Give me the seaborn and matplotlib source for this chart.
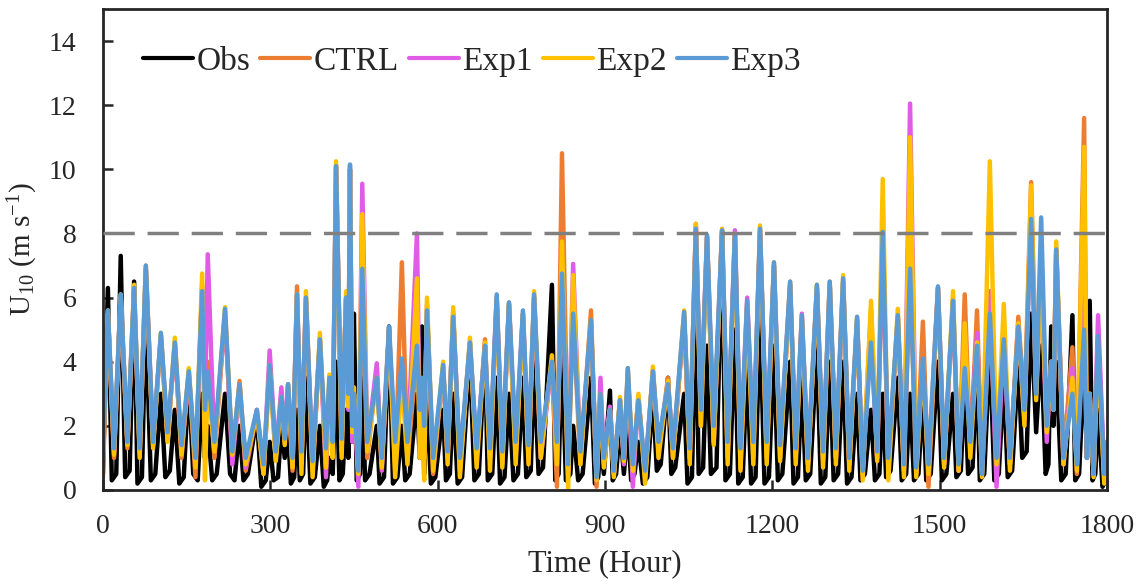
import numpy as np
import pandas as pd
import matplotlib
matplotlib.use("Agg")
import matplotlib.pyplot as plt
import seaborn as sns
from matplotlib.lines import Line2D

# Turning points (hour) of the model runs
hours = [0, 9, 20, 32, 44, 56, 66, 77, 90, 104, 116, 129, 141, 154, 166, 178, 183, 188, 200, 219, 232, 245, 256, 276, 288, 299,
         310, 320, 326, 332, 340, 348, 356, 364, 376, 389, 400, 406, 412, 418, 428, 436, 440, 443, 447, 450, 458, 465, 474, 491, 500, 513, 524, 536, 546, 563, 568, 572, 576, 581, 592,
         610, 618, 628, 640, 658, 670, 685, 694, 706, 716, 728, 740, 753, 763, 773, 785, 805, 814, 823, 834, 843, 856, 875, 885, 892, 898,
         909, 916, 927, 934, 941, 950, 960, 972, 986, 996, 1013, 1022, 1042, 1052, 1063, 1072, 1083, 1095, 1110, 1120, 1133, 1143, 1155, 1166, 1178, 1190, 1203, 1214,
         1232, 1242, 1253, 1264, 1280, 1291, 1303, 1314, 1327, 1338, 1352, 1362, 1377, 1388, 1398, 1408, 1425, 1436, 1447, 1458, 1470, 1480, 1497, 1508,
         1524, 1534, 1545, 1555, 1567, 1576, 1590, 1602, 1615, 1626, 1641, 1652, 1664, 1673, 1682, 1692, 1700, 1704, 1709, 1722, 1738, 1746, 1759, 1764, 1769, 1776, 1784, 1795, 1800]

# Observation turning points (wider calm periods)
obs_hours = [0, 9, 16, 24, 32, 40, 48, 56, 62, 70, 77, 86, 94, 104, 112, 120, 129, 137, 145, 154, 162, 170, 178, 183, 188, 196, 204, 219, 228, 236, 245, 252, 260, 276, 284, 292, 299,
             306, 314, 320, 326, 332, 337, 343, 348, 353, 359, 364, 372, 380, 389, 396, 402, 406, 412, 418, 424, 430, 436, 440, 443, 447, 450, 455, 461, 465, 470, 478, 491, 496, 504, 513, 520, 528, 536, 542, 550, 563, 568, 572, 576, 581, 588, 596,
             610, 615, 622, 628, 636, 644, 658, 666, 674, 685, 690, 698, 706, 712, 720, 728, 736, 744, 753, 759, 767, 773, 781, 789, 805, 811, 817, 823, 830, 838, 843, 852, 860, 875, 882, 888, 892, 898,
             909, 914, 920, 927, 934, 941, 947, 953, 960, 968, 976, 986, 993, 1000, 1013, 1019, 1026, 1042, 1048, 1056, 1063, 1068, 1076, 1083, 1090, 1100, 1110, 1116, 1124, 1133, 1139, 1147, 1155, 1162, 1170, 1178, 1186, 1194, 1203, 1210, 1218,
             1232, 1238, 1246, 1253, 1260, 1268, 1280, 1287, 1295, 1303, 1310, 1318, 1327, 1334, 1342, 1352, 1358, 1366, 1377, 1384, 1392, 1398, 1404, 1412, 1425, 1432, 1440, 1447, 1454, 1462, 1470, 1476, 1484, 1497, 1504, 1512,
             1524, 1530, 1538, 1545, 1551, 1559, 1567, 1572, 1580, 1590, 1598, 1606, 1615, 1622, 1630, 1641, 1648, 1656, 1664, 1673, 1682, 1690, 1695, 1700, 1704, 1709, 1718, 1726, 1738, 1743, 1750, 1759, 1764, 1769, 1774, 1779, 1784, 1792, 1797, 1800]

obs = [0.5, 6.3, 0.3, 0.5, 7.3, 0.4, 0.6, 6.5, 0.2, 0.4, 5.5, 0.3, 0.5, 3.0, 0.4, 0.6, 2.5, 0.2, 0.4, 3.5, 0.5, 0.3, 3.0, 1.0, 2.0, 0.3, 0.5, 3.0, 0.5, 0.3, 2.0, 0.3, 0.5, 2.3, 0.1, 0.3, 1.5,
       0.3, 0.4, 2.0, 1.0, 1.8, 0.2, 0.4, 2.5, 0.3, 0.5, 3.5, 0.2, 0.4, 2.0, 0.1, 0.3, 1.0, 0.5, 4.0, 0.3, 0.5, 2.5, 1.0, 2.5, 1.5, 5.5, 0.3, 0.5, 3.5, 0.3, 0.5, 2.0, 0.2, 0.4, 5.1, 0.2, 0.4, 2.0, 0.3, 0.5, 3.0, 1.0, 5.1, 0.5, 3.0, 0.2, 0.4,
       2.5, 0.3, 0.5, 3.0, 0.2, 0.4, 4.2, 0.3, 0.5, 4.5, 0.3, 0.5, 3.5, 0.2, 0.4, 3.0, 0.3, 0.5, 3.5, 0.4, 0.6, 4.0, 0.5, 0.7, 6.4, 0.3, 0.5, 4.5, 0.3, 0.5, 2.0, 0.3, 0.5, 3.5, 0.2, 0.4, 1.5, 0.5,
       3.1, 0.3, 0.5, 2.0, 0.5, 2.0, 0.3, 0.5, 1.5, 0.2, 0.4, 3.0, 0.6, 0.8, 3.5, 0.5, 0.7, 3.0, 0.2, 0.4, 6.0, 0.5, 0.7, 4.5, 0.5, 0.7, 8.0, 0.3, 0.5, 5.0, 0.2, 0.4, 4.0, 0.2, 0.4, 5.5, 0.2, 0.4, 4.5, 0.3, 0.5,
       4.0, 0.2, 0.4, 3.5, 0.3, 0.5, 4.5, 0.2, 0.4, 4.0, 0.3, 0.5, 4.0, 0.2, 0.4, 3.0, 0.3, 0.5, 2.5, 0.3, 0.5, 3.0, 0.4, 0.6, 3.5, 0.3, 0.5, 3.0, 0.3, 0.5, 3.0, 0.3, 0.5, 4.0, 0.3, 0.5,
       3.0, 0.4, 0.6, 3.5, 0.5, 0.7, 4.0, 0.3, 0.5, 4.5, 0.3, 0.5, 3.5, 0.4, 0.6, 4.0, 1.0, 1.2, 5.5, 1.8, 4.5, 0.5, 0.8, 5.1, 2.0, 4.0, 0.3, 0.5, 5.45, 0.3, 0.5, 4.0, 1.0, 5.9, 0.3, 0.5, 2.5, 0.1, 0.3, 1.5]

ctrl = [0.4, 5.5, 1.0, 6.0, 1.3, 6.2, 1.2, 6.9, 1.4, 4.8, 1.6, 4.6, 1.0, 3.7, 0.4, 6.4, 2.0, 4.0, 1.0, 5.5, 1.0, 3.4, 0.6, 2.4, 0.5, 3.8,
        1.0, 2.8, 1.5, 3.2, 0.6, 6.35, 0.8, 5.9, 0.6, 4.7, 0.8, 3.3, 1.4, 10.1, 1.5, 6.0, 2.8, 10.0, 2.0, 3.0, 0.6, 6.5, 1.0, 3.7, 0.8, 5.0, 0.6, 7.1, 0.9, 4.3, 2.0, 3.0, 1.0, 5.8, 0.5,
        3.8, 1.0, 5.5, 0.6, 4.6, 1.0, 4.7, 1.0, 6.0, 0.8, 5.8, 1.0, 5.5, 1.0, 6.0, 1.2, 4.0, 0.1, 10.5, 0.6, 5.5, 0.8, 5.6, 0.1, 3.0, 0.8,
        2.5, 0.5, 2.8, 1.0, 3.6, 0.8, 2.9, 0.4, 3.7, 1.2, 3.5, 1.0, 5.4, 1.0, 8.3, 2.0, 7.9, 1.5, 8.1, 1.0, 8.0, 0.7, 5.8, 1.0, 8.1, 1.0, 7.0, 1.0,
        6.4, 1.0, 5.3, 0.8, 6.3, 1.0, 6.4, 1.0, 6.5, 0.8, 5.3, 0.5, 5.6, 1.0, 7.6, 0.8, 5.4, 0.6, 6.9, 0.5, 5.25, 0.1, 6.3, 0.8,
        5.9, 0.6, 6.1, 1.2, 5.6, 0.5, 5.5, 0.6, 4.8, 0.8, 5.4, 2.5, 9.6, 3.5, 7.0, 2.0, 4.0, 2.5, 7.5, 1.0, 4.45, 0.5, 11.6, 1.0, 3.0, 0.5, 4.5, 0.3, 1.5]

exp1 = [1.2, 5.5, 1.2, 6.0, 1.5, 6.2, 1.1, 6.9, 1.5, 4.8, 1.7, 4.5, 1.2, 3.6, 0.8, 6.3, 2.5, 7.35, 1.3, 5.5, 0.8, 3.2, 0.7, 2.5, 0.6, 4.35,
        1.1, 3.2, 1.6, 3.3, 0.8, 6.1, 0.9, 6.0, 0.7, 4.7, 0.4, 3.4, 1.5, 10.1, 1.2, 6.0, 2.5, 10.0, 1.5, 3.0, 0.1, 9.55, 1.4, 3.95, 0.6, 5.0, 1.0, 4.0, 1.2, 8.0, 2.2, 3.2, 1.5, 5.5, 0.8,
        3.8, 1.0, 5.5, 0.8, 4.6, 1.2, 4.5, 1.0, 6.0, 1.0, 5.8, 1.2, 5.5, 1.0, 6.0, 1.0, 4.0, 1.0, 6.8, 0.5, 7.05, 1.0, 5.2, 0.3, 3.5, 1.0,
        2.6, 0.5, 2.8, 0.8, 3.7, 0.1, 2.9, 0.5, 3.7, 1.3, 3.3, 1.2, 5.4, 1.0, 8.2, 2.5, 7.9, 1.5, 8.1, 1.2, 8.1, 1.0, 6.0, 1.3, 8.1, 1.2, 7.0, 1.2,
        6.4, 1.1, 5.5, 0.8, 6.3, 0.9, 6.4, 1.0, 6.5, 0.8, 5.3, 0.6, 5.0, 1.0, 8.0, 0.6, 5.4, 0.6, 12.05, 0.6, 4.0, 0.6, 6.3, 0.8,
        5.9, 0.6, 4.5, 1.5, 4.9, 0.6, 6.2, 0.1, 4.7, 0.8, 5.1, 2.2, 8.7, 3.0, 6.8, 1.5, 4.0, 2.5, 7.5, 0.8, 3.8, 0.8, 6.0, 1.0, 3.0, 0.5, 5.45, 0.6, 1.5]

exp2 = [1.0, 5.6, 1.1, 6.1, 1.4, 6.4, 1.0, 7.0, 1.3, 4.9, 1.5, 4.75, 1.1, 3.8, 0.7, 6.75, 0.3, 3.5, 1.2, 5.7, 1.1, 3.3, 0.8, 2.4, 0.5, 3.9,
        0.9, 2.9, 1.4, 3.3, 0.7, 6.1, 0.5, 6.2, 0.4, 4.9, 0.7, 3.6, 1.0, 10.25, 1.0, 6.2, 2.6, 10.0, 1.8, 3.2, 0.5, 8.6, 1.2, 3.5, 0.7, 5.0, 0.4, 3.5, 0.8, 6.6, 1.0, 3.0, 0.3, 6.0, 0.6,
        4.0, 0.8, 5.7, 0.4, 4.75, 0.7, 4.6, 0.6, 6.0, 0.7, 5.85, 0.8, 5.5, 0.8, 6.2, 1.0, 4.2, 0.8, 7.75, 0.0, 6.7, 0.8, 5.3, 0.3, 3.0, 0.7,
        2.5, 0.4, 2.9, 0.9, 3.8, 0.6, 3.0, 0.2, 3.85, 1.0, 3.4, 1.0, 5.6, 0.8, 8.3, 2.0, 7.9, 1.4, 8.15, 0.8, 8.0, 0.6, 5.8, 0.8, 8.25, 0.8, 7.1, 0.9,
        6.5, 0.8, 5.4, 0.6, 6.4, 0.7, 6.5, 0.8, 6.7, 0.6, 5.4, 0.3, 5.9, 0.9, 9.7, 0.3, 5.65, 0.4, 11.0, 0.4, 4.0, 0.5, 6.3, 0.7,
        6.2, 0.6, 5.2, 1.0, 4.6, 0.4, 10.25, 0.8, 5.8, 0.6, 5.2, 2.0, 9.5, 2.8, 7.0, 1.8, 4.0, 2.5, 7.75, 0.8, 3.5, 0.6, 10.7, 1.0, 3.0, 0.4, 4.5, 0.2, 1.5]

exp3 = [1.0, 5.6, 1.3, 6.1, 1.5, 6.3, 1.3, 7.0, 1.5, 4.9, 1.8, 4.6, 1.4, 3.7, 1.0, 6.2, 2.5, 3.7, 1.5, 5.65, 1.2, 3.3, 1.0, 2.5, 0.8, 3.9,
        1.2, 2.9, 1.6, 3.3, 1.0, 6.1, 1.2, 6.0, 0.9, 4.7, 1.3, 3.5, 1.5, 10.1, 1.6, 6.0, 3.0, 10.15, 2.0, 3.0, 0.6, 6.9, 1.5, 3.5, 1.0, 5.1, 1.5, 4.1, 1.5, 4.5, 2.5, 3.5, 2.0, 5.6, 1.0,
        3.9, 1.2, 5.4, 1.0, 4.6, 1.3, 4.5, 1.3, 6.1, 1.2, 5.85, 1.5, 5.6, 1.4, 6.1, 1.5, 4.0, 1.5, 6.75, 0.8, 5.5, 1.2, 5.3, 0.4, 3.0, 1.0,
        2.5, 0.6, 2.8, 1.0, 3.8, 0.8, 2.8, 0.6, 3.7, 1.5, 3.3, 1.3, 5.55, 1.3, 8.15, 2.5, 7.95, 2.0, 8.1, 1.5, 8.0, 1.3, 5.9, 1.5, 8.15, 1.5, 7.1, 1.4,
        6.5, 1.3, 5.45, 1.0, 6.4, 1.2, 6.5, 1.3, 6.6, 1.0, 5.4, 0.6, 4.6, 1.2, 8.05, 1.0, 5.45, 0.8, 6.9, 0.7, 4.1, 0.8, 6.35, 1.0,
        5.9, 0.8, 3.8, 1.5, 4.5, 0.5, 5.5, 1.0, 4.7, 1.0, 5.1, 2.5, 8.45, 3.0, 8.5, 2.0, 4.0, 2.5, 7.5, 1.0, 3.0, 0.8, 5.0, 1.0, 3.0, 0.5, 4.8, 0.5, 1.5]

series_names = ["Obs", "CTRL", "Exp1", "Exp2", "Exp3"]
series_colors = ["#000000", "#ED7D31", "#E05BE6", "#FFC000", "#5B9BD5"]
threshold = 8.0
x_ticks = [0, 300, 600, 900, 1200, 1500, 1800]
y_ticks = [0, 2, 4, 6, 8, 10, 12, 14]

frames = [pd.DataFrame({"Hour": obs_hours, "U10": obs, "Series": "Obs"})]
for n, v in zip(series_names[1:], [ctrl, exp1, exp2, exp3]):
    frames.append(pd.DataFrame({"Hour": hours, "U10": v, "Series": n}))
df = pd.concat(frames, ignore_index=True)

sns.set_theme(style="ticks")
plt.rcParams["font.family"] = ["Liberation Serif", "DejaVu Serif"]
plt.rcParams["mathtext.fontset"] = "custom"
plt.rcParams["mathtext.rm"] = "Liberation Serif"
plt.rcParams["mathtext.it"] = "Liberation Serif:italic"

fig = plt.figure(figsize=(11.43, 5.84), dpi=100)
ax = fig.add_axes([0.090, 0.161, 0.8785, 0.8236])

sns.lineplot(data=df, x="Hour", y="U10", hue="Series", hue_order=series_names,
             palette=dict(zip(series_names, series_colors)), linewidth=3.2,
             estimator=None, sort=False, ax=ax, legend=False)
for ln in ax.get_lines():
    ln.set_solid_joinstyle("round")
    ln.set_solid_capstyle("round")

ax.axhline(threshold, color="#808080", lw=2.5, ls=(0, (9, 3.7)), zorder=10)

ax.set_xlim(0, 1800)
ax.set_ylim(0, 15)
ax.set_xticks(x_ticks)
ax.set_yticks(y_ticks)
ax.tick_params(direction="in", length=7, width=1.8, labelsize=20)
ax.tick_params(axis="y", pad=19)
ax.tick_params(axis="x", pad=17)
for s in ax.spines.values():
    s.set_linewidth(2.0)
    s.set_visible(True)
ax.set_xlabel("Time (Hour)", fontsize=22, labelpad=8)
ax.set_ylabel(r"U$_{10}$ (m s$^{-1}$)", fontsize=21, labelpad=6)

handles = [Line2D([0], [0], color=c, lw=3.0) for c in series_colors]
ax.legend(handles, series_names, ncol=5, loc="center left", bbox_to_anchor=(0.04, 0.89),
          frameon=False, fontsize=24, handlelength=1.5, handletextpad=0.1, columnspacing=0.3,
          borderpad=0, borderaxespad=0)

fig.savefig("out.png", dpi=100)
